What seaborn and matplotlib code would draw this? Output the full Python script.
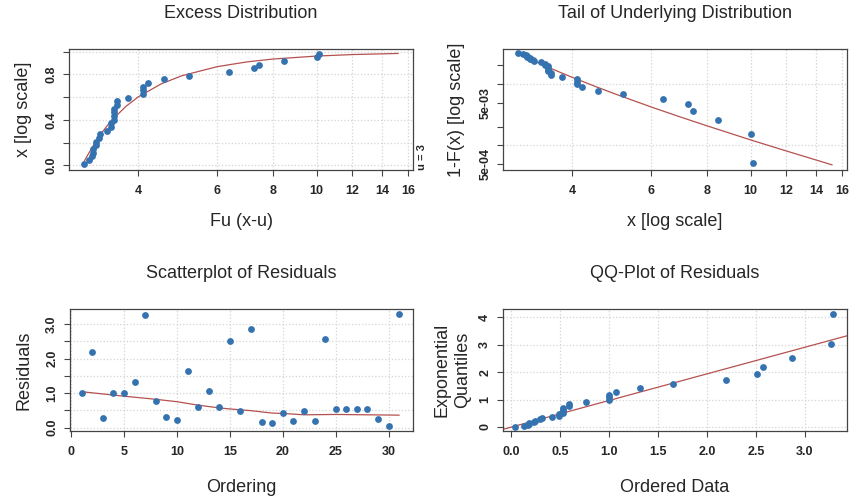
import numpy as np
import pandas as pd
import matplotlib
matplotlib.use("Agg")
import matplotlib.pyplot as plt
from matplotlib.ticker import NullLocator
import seaborn as sns

# exceedances over u = 3, sorted
x_sorted = [3.03, 3.11, 3.15, 3.16, 3.16, 3.21, 3.22, 3.27, 3.29, 3.40, 3.47,
            3.47, 3.52, 3.52, 3.52, 3.52, 3.58, 3.58, 3.79, 4.10, 4.10, 4.10,
            4.20, 4.57, 5.18, 6.38, 7.26, 7.45, 8.44, 10.02, 10.11]
# empirical excess distribution
ecdf_y = [0.016, 0.048, 0.081, 0.113, 0.145, 0.177, 0.210, 0.242, 0.274, 0.306,
          0.339, 0.371, 0.403, 0.435, 0.468, 0.500, 0.532, 0.565, 0.597, 0.629,
          0.661, 0.694, 0.726, 0.758, 0.790, 0.823, 0.855, 0.887, 0.919, 0.952,
          0.984]
# empirical tail 1-F(x)
tail_y = [0.03177, 0.03073, 0.02969, 0.02865, 0.02760, 0.02656, 0.02552,
          0.02448, 0.02344, 0.02240, 0.02135, 0.02031, 0.01927, 0.01823,
          0.01719, 0.01615, 0.01510, 0.01406, 0.01302, 0.01198, 0.01094,
          0.00990, 0.00885, 0.00781, 0.00677, 0.00573, 0.00469, 0.00365,
          0.00260, 0.00156, 0.00052]

# fitted GPD curves
fit_x = [3.03, 3.1, 3.2, 3.3, 3.4, 3.5, 3.75, 4.0, 4.5, 5.0, 6.0, 7.0, 8.0,
         10.0, 12.0, 15.2]
fit_cdf = [0.039, 0.108, 0.199, 0.278, 0.345, 0.403, 0.519, 0.604, 0.718,
           0.789, 0.869, 0.911, 0.936, 0.962, 0.975, 0.985]
fit_tail = [0.0310, 0.02881, 0.02586, 0.02334, 0.02117, 0.01929, 0.01555,
            0.01281, 0.00912, 0.00682, 0.00422, 0.00287, 0.00208, 0.00123,
            0.000815, 0.000483]

# residuals in data order
ordering = list(range(1, 32))
residuals = [1.00, 2.19, 0.29, 1.00, 1.00, 1.31, 3.27, 0.76, 0.31, 0.23, 1.65,
             0.59, 1.07, 0.59, 2.51, 0.49, 2.87, 0.17, 0.13, 0.42, 0.18, 0.49,
             0.18, 2.57, 0.53, 0.53, 0.53, 0.53, 0.24, 0.04, 3.29]
smooth_x = [1, 5, 8, 10, 12, 14, 15, 17, 19, 20, 22, 25, 31]
smooth_y = [1.04, 0.91, 0.82, 0.75, 0.65, 0.57, 0.54, 0.49, 0.42, 0.41, 0.37,
            0.38, 0.36]

# QQ plot
exp_quant = [0.016, 0.050, 0.084, 0.120, 0.157, 0.195, 0.235, 0.277, 0.321,
             0.366, 0.414, 0.464, 0.516, 0.572, 0.631, 0.693, 0.760, 0.831,
             0.908, 0.992, 1.083, 1.183, 1.294, 1.419, 1.562, 1.729, 1.930,
             2.181, 2.518, 3.029, 4.127]
qq_slope = 0.972
qq_intercept = -0.003

sns.set_theme(style="white")
plt.rcParams['font.family'] = ['Liberation Sans', 'DejaVu Sans']

pt_col = "#3572b0"
ln_col = "#b5514f"
grid_kw = dict(color="#d4d4d4", linestyle=":", linewidth=0.9)
tick_font = dict(fontsize=9, fontweight="bold")
text_size = 13

fig = plt.figure(figsize=(8.58, 4.97), dpi=100)
W, H = 858, 497


def make_ax(left, top, right, bottom):
    return fig.add_axes([left / W, 1 - bottom / H, (right - left) / W, (bottom - top) / H])


ax1 = make_ax(69, 49, 413, 170)
ax2 = make_ax(503, 49, 847, 170)
ax3 = make_ax(70, 309, 413, 431)
ax4 = make_ax(503, 309, 847, 431)


def set_ticks(ax, xt, xl, yt, yl):
    ax.set_xticks(xt)
    ax.set_xticklabels(xl, **tick_font)
    ax.set_yticks(yt)
    ax.set_yticklabels(yl, rotation=90, va="center", **tick_font)
    ax.xaxis.set_minor_locator(NullLocator())
    ax.yaxis.set_minor_locator(NullLocator())


def style(ax, title, xlabel, ylabel, xpad_px=52, ypad_px=46):
    for s in ax.spines.values():
        s.set_color("#444444")
        s.set_linewidth(0.9)
    ax.tick_params(axis="both", which="both", direction="out", length=4, width=0.8,
                   color="#444444", bottom=True, left=True)
    ax.tick_params(axis="x", pad=7)
    ax.tick_params(axis="y", pad=4.5)
    bb = ax.get_position()
    hpx = bb.height * H
    wpx = bb.width * W
    ax.set_title(title, fontsize=text_size, y=1 + 27.5 / hpx, va="center")
    ax.set_xlabel(xlabel, fontsize=text_size)
    ax.xaxis.set_label_coords(0.5, -xpad_px / hpx)
    ax.xaxis.label.set_va("center")
    ax.set_ylabel(ylabel, fontsize=text_size, linespacing=1.3)
    ax.yaxis.set_label_coords(-ypad_px / wpx, 0.5)
    ax.yaxis.label.set_va("center")
    ax.grid(False)


log_ticks = [4, 6, 8, 10, 12, 14, 16]
log_labels = [str(t) for t in log_ticks]

# Excess Distribution
for xv in log_ticks:
    ax1.axvline(xv, zorder=0, **grid_kw)
for yv in [0, 0.2, 0.4, 0.6, 0.8, 1.0]:
    ax1.axhline(yv, zorder=0, **grid_kw)
sns.lineplot(x=fit_x, y=fit_cdf, ax=ax1, color=ln_col, lw=0.9, sort=False, estimator=None)
sns.scatterplot(x=x_sorted, y=ecdf_y, ax=ax1, color=pt_col, s=24, linewidth=0, zorder=3)
ax1.set_xscale("log")
ax1.set_xlim(2.80, 16.4)
ax1.set_ylim(-0.04, 1.024)
set_ticks(ax1, log_ticks, log_labels, [0, 0.2, 0.4, 0.6, 0.8, 1.0],
          ["0.0", "", "0.4", "", "0.8", ""])
ax1.text(1.026, 0.0, "u = 3", transform=ax1.transAxes, rotation=90, ha="center",
         va="bottom", fontsize=8, fontweight="bold")
style(ax1, "Excess Distribution", "Fu (x-u)", "x [log scale]")

# Tail of Underlying Distribution
for xv in log_ticks:
    ax2.axvline(xv, zorder=0, **grid_kw)
for yv in [1e-3, 1e-2]:
    ax2.axhline(yv, zorder=0, **grid_kw)
sns.lineplot(x=fit_x, y=fit_tail, ax=ax2, color=ln_col, lw=0.9, sort=False, estimator=None)
sns.scatterplot(x=x_sorted, y=tail_y, ax=ax2, color=pt_col, s=24, linewidth=0, zorder=3)
ax2.set_xscale("log")
ax2.set_yscale("log")
ax2.set_xlim(2.80, 16.4)
ax2.set_ylim(3.99e-4, 0.0371)
set_ticks(ax2, log_ticks, log_labels, [5e-4, 1e-3, 2e-3, 5e-3, 1e-2, 2e-2],
          ["5e-04", "", "", "5e-03", "", ""])
style(ax2, "Tail of Underlying Distribution", "x [log scale]", "1-F(x) [log scale]")

# Scatterplot of Residuals
for xv in [0, 5, 10, 15, 20, 25, 30]:
    ax3.axvline(xv, zorder=0, **grid_kw)
for yv in [0, 0.5, 1, 1.5, 2, 2.5, 3]:
    ax3.axhline(yv, zorder=0, **grid_kw)
sns.lineplot(x=smooth_x, y=smooth_y, ax=ax3, color=ln_col, lw=0.9, sort=False, estimator=None)
sns.scatterplot(x=ordering, y=residuals, ax=ax3, color=pt_col, s=24, linewidth=0, zorder=3)
ax3.set_xlim(-0.1, 32.3)
ax3.set_ylim(-0.1, 3.44)
set_ticks(ax3, [0, 5, 10, 15, 20, 25, 30], ["0", "5", "10", "15", "20", "25", "30"],
          [0, 0.5, 1, 1.5, 2, 2.5, 3], ["0.0", "", "1.0", "", "2.0", "", "3.0"])
style(ax3, "Scatterplot of Residuals", "Ordering", "Residuals", xpad_px=56)

# QQ-Plot of Residuals
qq_x = sorted(residuals)
for xv in [0, 0.5, 1, 1.5, 2, 2.5, 3]:
    ax4.axvline(xv, zorder=0, **grid_kw)
for yv in [0, 1, 2, 3, 4]:
    ax4.axhline(yv, zorder=0, **grid_kw)
ax4.axline((0, qq_intercept), slope=qq_slope, color=ln_col, lw=0.9)
sns.scatterplot(x=qq_x, y=exp_quant, ax=ax4, color=pt_col, s=24, linewidth=0, zorder=3)
ax4.set_xlim(-0.085, 3.43)
ax4.set_ylim(-0.147, 4.31)
set_ticks(ax4, [0, 0.5, 1, 1.5, 2, 2.5, 3],
          ["0.0", "0.5", "1.0", "1.5", "2.0", "2.5", "3.0"],
          [0, 1, 2, 3, 4], ["0", "1", "2", "3", "4"])
style(ax4, "QQ-Plot of Residuals", "Ordered Data", "Exponential\nQuantiles",
      xpad_px=56, ypad_px=51)

fig.savefig("out.png", dpi=100)
